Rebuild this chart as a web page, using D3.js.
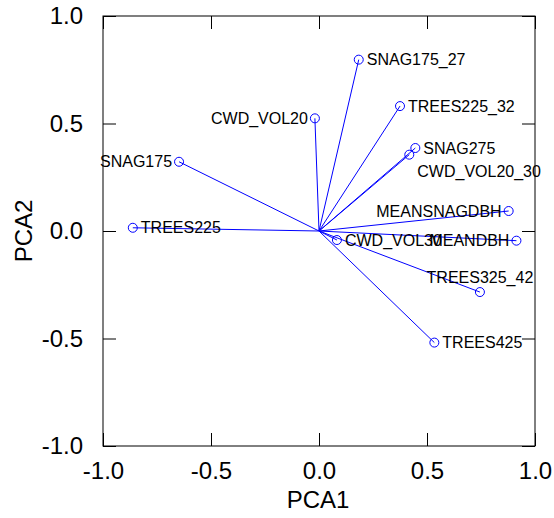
<!DOCTYPE html>
<html>
<head>
<meta charset="utf-8">
<script src="https://cdn.jsdelivr.net/npm/d3@7"></script>
<style>
  body { margin: 0; background: #fff; }
  svg { display: block; font-family: "Liberation Sans", Arial, sans-serif; }
</style>
</head>
<body>
<svg width="554" height="518"></svg>
<script>
// PCA loadings
const names = ["SNAG175_27", "TREES225_32", "CWD_VOL20", "SNAG275", "CWD_VOL20_30",
  "SNAG175", "TREES225", "MEANSNAGDBH", "MEANDBH", "CWD_VOL30", "TREES325_42", "TREES425"];
const pca1 = [0.184, 0.375, -0.019, 0.446, 0.418, -0.648, -0.862, 0.878, 0.914, 0.083, 0.745, 0.534];
const pca2 = [0.797, 0.581, 0.524, 0.386, 0.355, 0.322, 0.015, 0.093, -0.045, -0.042, -0.284, -0.519];
const ticks = [-1.0, -0.5, 0.0, 0.5, 1.0];

// where each label sits relative to its point
const labelPlace = {
  "SNAG175_27": "right", "TREES225_32": "right", "CWD_VOL20": "left", "SNAG275": "right",
  "CWD_VOL20_30": "belowright", "SNAG175": "left", "TREES225": "right", "MEANSNAGDBH": "left",
  "MEANDBH": "left", "CWD_VOL30": "right", "TREES325_42": "above", "TREES425": "right"
};

const data = names.map((n, i) => ({ name: n, x: pca1[i], y: pca2[i] }));

const svg = d3.select("svg");
const x = d3.scaleLinear().domain([-1, 1]).range([103, 535]);
const y = d3.scaleLinear().domain([-1, 1]).range([446, 16]);
const tickLen = 13;

// frame
svg.append("rect")
  .attr("x", x(-1)).attr("y", y(1))
  .attr("width", x(1) - x(-1)).attr("height", y(-1) - y(1))
  .attr("fill", "none").attr("stroke", "#000").attr("stroke-width", 1);

// plain hyphen for negatives, as in the original
const fmt = d => d3.format(".1f")(d).replace("\u2212", "-");

// axes with inward ticks on all four sides
svg.append("g").attr("transform", `translate(0,${y(-1)})`)
  .call(d3.axisBottom(x).tickValues(ticks).tickSize(-tickLen).tickPadding(tickLen + 3).tickFormat(fmt))
  .call(g => g.select(".domain").remove())
  .call(g => g.selectAll("text").attr("font-size", 24).attr("font-family", null).attr("fill", "#000"));

svg.append("g").attr("transform", `translate(0,${y(1)})`)
  .call(d3.axisTop(x).tickValues(ticks).tickSize(-tickLen).tickFormat(""))
  .call(g => g.select(".domain").remove());

svg.append("g").attr("transform", `translate(${x(-1)},0)`)
  .call(d3.axisLeft(y).tickValues(ticks).tickSize(-tickLen).tickPadding(tickLen + 7).tickFormat(fmt))
  .call(g => g.select(".domain").remove())
  .call(g => g.selectAll("text").attr("font-size", 24).attr("font-family", null).attr("fill", "#000"));

svg.append("g").attr("transform", `translate(${x(1)},0)`)
  .call(d3.axisRight(y).tickValues(ticks).tickSize(-tickLen).tickFormat(""))
  .call(g => g.select(".domain").remove());

svg.selectAll(".tick line").attr("stroke", "#000");

// axis titles
svg.append("text")
  .attr("x", 318).attr("y", 508)
  .attr("text-anchor", "middle").attr("font-size", 24)
  .text("PCA1");

svg.append("text")
  .attr("transform", `translate(32,${y(0)}) rotate(-90)`)
  .attr("text-anchor", "middle").attr("font-size", 24)
  .text("PCA2");

// loading vectors
svg.append("g").selectAll("line")
  .data(data)
  .join("line")
  .attr("x1", x(0)).attr("y1", y(0))
  .attr("x2", d => x(d.x)).attr("y2", d => y(d.y))
  .attr("stroke", "#0000ff").attr("stroke-width", 1);

svg.append("g").selectAll("circle")
  .data(data)
  .join("circle")
  .attr("cx", d => x(d.x)).attr("cy", d => y(d.y))
  .attr("r", 4.5)
  .attr("fill", "none").attr("stroke", "#0000ff").attr("stroke-width", 1);

const place = {
  right: { dx: 8, dy: 0, anchor: "start" },
  left: { dx: -7, dy: 0, anchor: "end" },
  above: { dx: 0, dy: -15, anchor: "middle" },
  belowright: { dx: 8, dy: 17, anchor: "start" }
};

svg.append("g").selectAll("text")
  .data(data)
  .join("text")
  .attr("x", d => x(d.x) + place[labelPlace[d.name]].dx)
  .attr("y", d => y(d.y) + place[labelPlace[d.name]].dy)
  .attr("dy", "0.35em")
  .attr("text-anchor", d => place[labelPlace[d.name]].anchor)
  .attr("font-size", 16)
  .attr("fill", "#000")
  .text(d => d.name);
</script>
</body>
</html>
